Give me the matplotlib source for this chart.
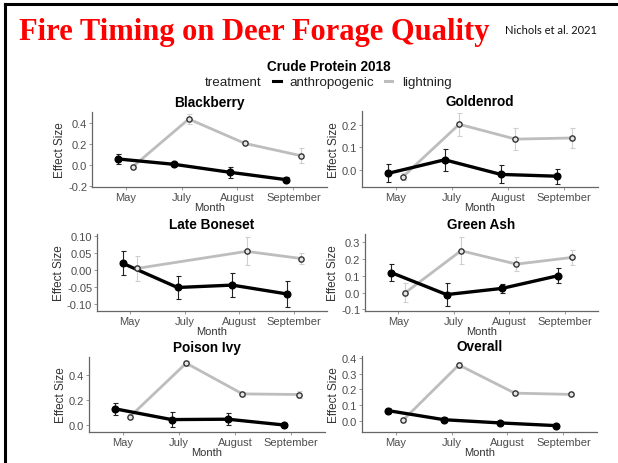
import matplotlib
matplotlib.use("Agg")
import matplotlib.pyplot as plt
from matplotlib.lines import Line2D

# ── Data ──────────────────────────────────────────────────────────────────────
MONTHS = ["May", "July", "August", "September"]
PANELS = ["Blackberry", "Goldenrod", "Late Boneset", "Green Ash", "Poison Ivy", "Overall"]

anthro = {
    "Blackberry":   [0.057, 0.006, -0.070, -0.140],
    "Goldenrod":    [-0.015, 0.045, -0.020, -0.028],
    "Late Boneset": [0.020, -0.051, -0.044, -0.070],
    "Green Ash":    [0.120, -0.012, 0.025, 0.100],
    "Poison Ivy":   [0.128, 0.041, 0.044, -0.003],
    "Overall":      [0.067, 0.010, -0.010, -0.027],
}
anthro_err = {
    "Blackberry":   [0.050, 0.020, 0.055, 0.025],
    "Goldenrod":    [0.040, 0.048, 0.040, 0.033],
    "Late Boneset": [0.035, 0.033, 0.036, 0.038],
    "Green Ash":    [0.050, 0.070, 0.025, 0.045],
    "Poison Ivy":   [0.050, 0.060, 0.050, 0.020],
    "Overall":      [0.015, 0.015, 0.010, 0.010],
}
lightning = {
    "Blackberry":   [-0.016, 0.438, 0.206, 0.089],
    "Goldenrod":    [-0.030, 0.203, 0.137, 0.142],
    "Late Boneset": [0.005, None, 0.055, 0.034],
    "Green Ash":    [0.000, 0.250, 0.170, 0.210],
    "Poison Ivy":   [0.065, 0.500, 0.250, 0.245],
    "Overall":      [0.006, 0.354, 0.177, 0.169],
}
lightning_err = {
    "Blackberry":   [0.020, 0.047, 0.020, 0.070],
    "Goldenrod":    [0.015, 0.050, 0.050, 0.045],
    "Late Boneset": [0.037, None, 0.041, 0.015],
    "Green Ash":    [0.055, 0.080, 0.040, 0.045],
    "Poison Ivy":   [0.020, 0.020, 0.015, 0.030],
    "Overall":      [0.010, 0.020, 0.010, 0.010],
}
yticks = {
    "Blackberry":   [-0.2, 0.0, 0.2, 0.4],
    "Goldenrod":    [0.0, 0.1, 0.2],
    "Late Boneset": [-0.10, -0.05, 0.00, 0.05, 0.10],
    "Green Ash":    [-0.1, 0.0, 0.1, 0.2, 0.3],
    "Poison Ivy":   [0.0, 0.2, 0.4],
    "Overall":      [0.0, 0.1, 0.2, 0.3, 0.4],
}
ytick_fmt = {"Late Boneset": "{:.2f}"}

# ── Layout (pixels in a 618x464 canvas) ──────────────────────────────────────
W, H = 618, 464
ylims = {
    "Blackberry":   (-0.21, 0.505),
    "Goldenrod":    (-0.076, 0.262),
    "Late Boneset": (-0.12, 0.106),
    "Green Ash":    (-0.11, 0.35),
    "Poison Ivy":   (-0.06, 0.55),
    "Overall":      (-0.067, 0.41),
}
boxes = {  # x0, top, x1, bottom
    "Blackberry":   (92, 113, 327, 188),
    "Goldenrod":    (362, 112, 598, 188),
    "Late Boneset": (97, 235, 327, 312),
    "Green Ash":    (365, 235, 598, 312),
    "Poison Ivy":   (89, 358, 325, 433),
    "Overall":      (362, 357, 597, 433),
}

BLACK = "#000000"
GREY = "#bdbdbd"
TXT = "#4d4d4d"
SANS = ["Liberation Sans", "DejaVu Sans"]
DODGE = 0.13

fig = plt.figure(figsize=(W / 100, H / 100), dpi=100)
fig.patch.set_facecolor("white")


def px_axes(x0, top, x1, bottom):
    return fig.add_axes([x0 / W, 1 - bottom / H, (x1 - x0) / W, (bottom - top) / H])


def fx(x):
    return x / W


def fy(y):
    return 1 - y / H


for name in PANELS:
    ax = px_axes(*boxes[name])
    xs = range(1, len(MONTHS) + 1)

    # lightning (drop missing months so the line joins neighbours)
    lx = [x + DODGE for x, v in zip(xs, lightning[name]) if v is not None]
    ly = [v for v in lightning[name] if v is not None]
    le = [e for e in lightning_err[name] if e is not None]
    ax.errorbar(lx, ly, yerr=le, fmt="none", ecolor="#cfcfcf",
                elinewidth=0.8, capsize=1.8, capthick=0.8, zorder=2)
    ax.plot(lx, ly, color=GREY, linewidth=2.0, zorder=3)

    ax_x = [x - DODGE for x in xs]
    ax.errorbar(ax_x, anthro[name], yerr=anthro_err[name], fmt="none",
                ecolor="#222222", elinewidth=0.8, capsize=1.8, capthick=0.8, zorder=4)
    ax.plot(ax_x, anthro[name], color=BLACK, linewidth=2.4, zorder=5,
            marker="o", markersize=4.8)
    ax.plot(lx, ly, linestyle="none", marker="o", markersize=3.8,
            markerfacecolor="#e6e6e6", markeredgecolor="#333333",
            markeredgewidth=1.0, zorder=6)

    ax.set_xlim(0.4, 4.6)
    ax.set_ylim(*ylims[name])
    ax.set_xticks(list(xs))
    ax.set_xticklabels(MONTHS)
    fmt = ytick_fmt.get(name, "{:.1f}")
    ax.set_yticks(yticks[name])
    ax.set_yticklabels([fmt.format(t) for t in yticks[name]])

    for side in ("top", "right"):
        ax.spines[side].set_visible(False)
    for side in ("left", "bottom"):
        ax.spines[side].set_color("#666666")
        ax.spines[side].set_linewidth(0.9)
    ax.tick_params(length=2, width=0.6, color="#888888", labelcolor=TXT,
                   labelsize=8, pad=1.5)
    for lab in ax.get_xticklabels() + ax.get_yticklabels():
        lab.set_family(SANS)

    ax.set_xlabel("Month", fontsize=8, color="#333333", family=SANS, labelpad=0)
    ax.set_ylabel("Effect Size", fontsize=8.5, color="#333333", family=SANS, labelpad=1.5)
    ax.set_title(name, fontsize=9.8, fontweight="bold", family=SANS, pad=4)

# ── Slide header ──────────────────────────────────────────────────────────────
fig.text(fx(19), fy(40), "Fire Timing on Deer Forage Quality", color="#ff0000",
         fontsize=22, fontweight="bold", family=["Liberation Serif", "DejaVu Serif"],
         ha="left", va="baseline")
fig.text(fx(505), fy(30), "Nichols et al. 2021", fontsize=8, family=["Lato", "DejaVu Sans"],
         ha="left", va="center", color="#111111")

fig.text(fx(329), fy(67), "Crude Protein 2018", fontsize=9.8, fontweight="bold",
         family=SANS, ha="center", va="center")

# legend row
fig.text(fx(205), fy(83), "treatment", fontsize=9.6, family=SANS, ha="left",
         va="center", color="#222222")
fig.text(fx(289), fy(83), "anthropogenic", fontsize=9.6, family=SANS, ha="left",
         va="center", color="#222222")
fig.text(fx(402), fy(83), "lightning", fontsize=9.6, family=SANS, ha="left",
         va="center", color="#222222")
fig.add_artist(Line2D([fx(273), fx(281)], [fy(82), fy(82)], color=BLACK,
                      linewidth=2.2, transform=fig.transFigure))
fig.add_artist(Line2D([fx(385), fx(392)], [fy(82), fy(82)], color=GREY,
                      linewidth=2.2, transform=fig.transFigure))

# slide frame (top and left edges)
fig.add_artist(Line2D([fx(4.5), fx(W)], [fy(4.5), fy(4.5)], color=BLACK,
                      linewidth=2.2, transform=fig.transFigure))
fig.add_artist(Line2D([fx(4.5), fx(4.5)], [fy(4.5), 0], color=BLACK,
                      linewidth=2.2, transform=fig.transFigure))

fig.savefig("out.png", dpi=100, facecolor="white")
